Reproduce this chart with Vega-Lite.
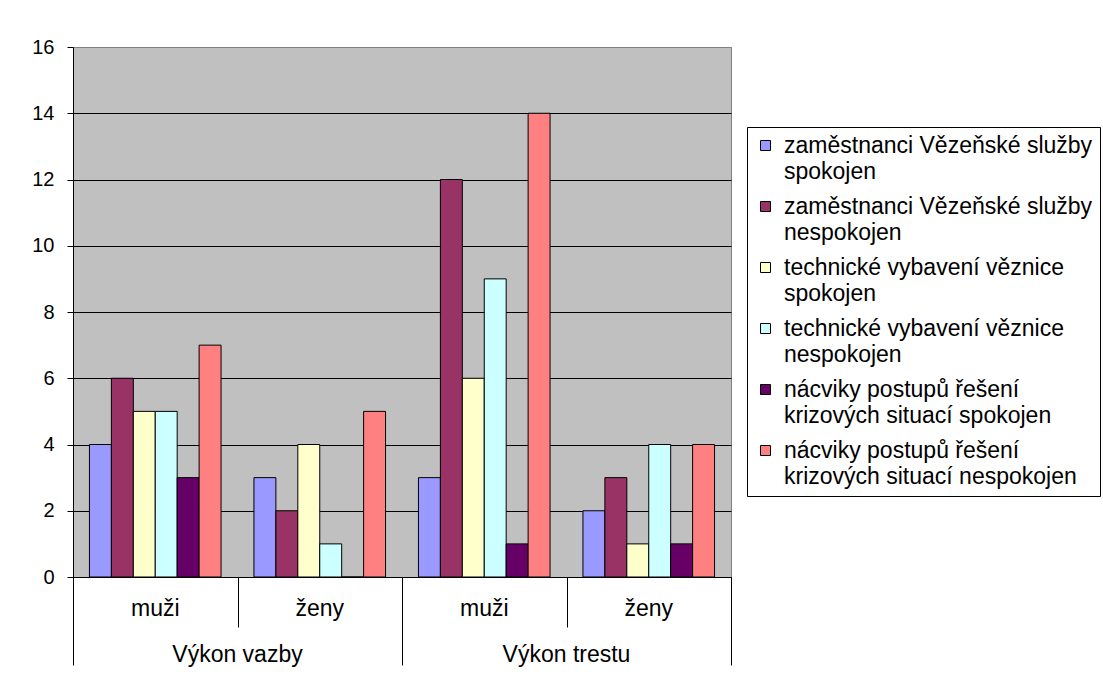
{
  "$schema": "https://vega.github.io/schema/vega-lite/v6.json",
  "width": 658,
  "height": 530,
  "autosize": {"type": "none"},
  "padding": {"left": 73, "top": 47, "right": 372, "bottom": 105},
  "background": "white",
  "config": {
    "font": "Liberation Sans",
    "view": {"fill": "#C0C0C0", "stroke": "#808080", "strokeWidth": 1}
  },
  "data": {
    "values": [
      {"skupina": "Výkon vazby", "kategorie": "Výkon vazby / muži", "položka": "zaměstnanci Vězeňské služby spokojen", "počet": 4},
      {"skupina": "Výkon vazby", "kategorie": "Výkon vazby / muži", "položka": "zaměstnanci Vězeňské služby nespokojen", "počet": 6},
      {"skupina": "Výkon vazby", "kategorie": "Výkon vazby / muži", "položka": "technické vybavení věznice spokojen", "počet": 5},
      {"skupina": "Výkon vazby", "kategorie": "Výkon vazby / muži", "položka": "technické vybavení věznice nespokojen", "počet": 5},
      {"skupina": "Výkon vazby", "kategorie": "Výkon vazby / muži", "položka": "nácviky postupů řešení krizových situací spokojen", "počet": 3},
      {"skupina": "Výkon vazby", "kategorie": "Výkon vazby / muži", "položka": "nácviky postupů řešení krizových situací nespokojen", "počet": 7},
      {"skupina": "Výkon vazby", "kategorie": "Výkon vazby / ženy", "položka": "zaměstnanci Vězeňské služby spokojen", "počet": 3},
      {"skupina": "Výkon vazby", "kategorie": "Výkon vazby / ženy", "položka": "zaměstnanci Vězeňské služby nespokojen", "počet": 2},
      {"skupina": "Výkon vazby", "kategorie": "Výkon vazby / ženy", "položka": "technické vybavení věznice spokojen", "počet": 4},
      {"skupina": "Výkon vazby", "kategorie": "Výkon vazby / ženy", "položka": "technické vybavení věznice nespokojen", "počet": 1},
      {"skupina": "Výkon vazby", "kategorie": "Výkon vazby / ženy", "položka": "nácviky postupů řešení krizových situací spokojen", "počet": 0},
      {"skupina": "Výkon vazby", "kategorie": "Výkon vazby / ženy", "položka": "nácviky postupů řešení krizových situací nespokojen", "počet": 5},
      {"skupina": "Výkon trestu", "kategorie": "Výkon trestu / muži", "položka": "zaměstnanci Vězeňské služby spokojen", "počet": 3},
      {"skupina": "Výkon trestu", "kategorie": "Výkon trestu / muži", "položka": "zaměstnanci Vězeňské služby nespokojen", "počet": 12},
      {"skupina": "Výkon trestu", "kategorie": "Výkon trestu / muži", "položka": "technické vybavení věznice spokojen", "počet": 6},
      {"skupina": "Výkon trestu", "kategorie": "Výkon trestu / muži", "položka": "technické vybavení věznice nespokojen", "počet": 9},
      {"skupina": "Výkon trestu", "kategorie": "Výkon trestu / muži", "položka": "nácviky postupů řešení krizových situací spokojen", "počet": 1},
      {"skupina": "Výkon trestu", "kategorie": "Výkon trestu / muži", "položka": "nácviky postupů řešení krizových situací nespokojen", "počet": 14},
      {"skupina": "Výkon trestu", "kategorie": "Výkon trestu / ženy", "položka": "zaměstnanci Vězeňské služby spokojen", "počet": 2},
      {"skupina": "Výkon trestu", "kategorie": "Výkon trestu / ženy", "položka": "zaměstnanci Vězeňské služby nespokojen", "počet": 3},
      {"skupina": "Výkon trestu", "kategorie": "Výkon trestu / ženy", "položka": "technické vybavení věznice spokojen", "počet": 1},
      {"skupina": "Výkon trestu", "kategorie": "Výkon trestu / ženy", "položka": "technické vybavení věznice nespokojen", "počet": 4},
      {"skupina": "Výkon trestu", "kategorie": "Výkon trestu / ženy", "položka": "nácviky postupů řešení krizových situací spokojen", "počet": 1},
      {"skupina": "Výkon trestu", "kategorie": "Výkon trestu / ženy", "položka": "nácviky postupů řešení krizových situací nespokojen", "počet": 4}
    ]
  },
  "layer": [
    {
      "mark": {"type": "bar", "stroke": "black", "strokeWidth": 1},
      "encoding": {
        "x": {
          "field": "kategorie", "type": "nominal",
          "sort": ["Výkon vazby / muži", "Výkon vazby / ženy", "Výkon trestu / muži", "Výkon trestu / ženy"],
          "scale": {"type": "band", "paddingInner": 0, "paddingOuter": 0},
          "axis": {
            "orient": "bottom", "title": null, "labels": false,
            "domainColor": "black", "domainWidth": 1,
            "tickBand": "extent", "tickColor": "black", "tickWidth": 1,
            "tickSize": {"condition": {"test": "datum.extra || indexof(datum.value, 'ženy') >= 0", "value": 88}, "value": 50}
          }
        },
        "xOffset": {
          "field": "položka", "type": "nominal",
          "sort": ["zaměstnanci Vězeňské služby spokojen", "zaměstnanci Vězeňské služby nespokojen", "technické vybavení věznice spokojen", "technické vybavení věznice nespokojen", "nácviky postupů řešení krizových situací spokojen", "nácviky postupů řešení krizových situací nespokojen"],
          "scale": {"paddingInner": 0, "paddingOuter": 0.75}
        },
        "y": {
          "field": "počet", "type": "quantitative",
          "scale": {"domain": [0, 16], "nice": false},
          "axis": {
            "title": null, "values": [0, 2, 4, 6, 8, 10, 12, 14, 16],
            "grid": true, "gridWidth": 1,
            "gridColor": {"condition": {"test": "datum.value == 16", "value": "#808080"}, "value": "black"},
            "domainColor": "black", "tickColor": "black", "tickSize": 6,
            "labelFontSize": 20, "labelColor": "black", "labelPadding": 13
          }
        },
        "color": {
          "field": "položka", "type": "nominal",
          "scale": {
            "domain": ["zaměstnanci Vězeňské služby spokojen", "zaměstnanci Vězeňské služby nespokojen", "technické vybavení věznice spokojen", "technické vybavení věznice nespokojen", "nácviky postupů řešení krizových situací spokojen", "nácviky postupů řešení krizových situací nespokojen"],
            "range": ["#9999FF", "#993366", "#FFFFCC", "#CCFFFF", "#660066", "#FF8080"]
          },
          "legend": {
            "orient": "none", "legendX": 674, "legendY": 80,
            "title": null,
            "strokeColor": "black", "fillColor": "white", "padding": 7,
            "symbolType": "square", "symbolSize": 100,
            "symbolStrokeColor": "black", "symbolStrokeWidth": 1, "symbolOpacity": 1,
            "labelFontSize": 23, "labelColor": "black", "labelLimit": 500,
            "labelOffset": 7, "rowPadding": 11,
            "labelExpr": "indexof(datum.label, 'nácviky') == 0 ? ['nácviky postupů řešení', slice(datum.label, 23)] : [slice(datum.label, 0, lastindexof(datum.label, ' ')), slice(datum.label, lastindexof(datum.label, ' ') + 1)]",
            "encode": {"labels": {"update": {"lineHeight": {"value": 26}}}}
          }
        }
      }
    },
    {
      "mark": {"type": "point", "opacity": 0},
      "encoding": {
        "x": {
          "field": "kategorie", "type": "nominal",
          "sort": ["Výkon vazby / muži", "Výkon vazby / ženy", "Výkon trestu / muži", "Výkon trestu / ženy"],
          "scale": {"type": "band", "paddingInner": 0, "paddingOuter": 0},
          "axis": {
            "orient": "bottom", "title": null, "ticks": false, "tickSize": 0, "domain": false, "grid": false,
            "labelExpr": "slice(datum.label, indexof(datum.label, '/') + 2)",
            "labelFontSize": 23, "labelColor": "black", "labelPadding": 20, "labelAngle": 0
          }
        }
      }
    },
    {
      "mark": {"type": "point", "opacity": 0},
      "encoding": {
        "x": {
          "field": "skupina", "type": "nominal",
          "sort": ["Výkon vazby", "Výkon trestu"],
          "scale": {"type": "band", "paddingInner": 0, "paddingOuter": 0},
          "axis": {
            "orient": "bottom", "title": null, "ticks": false, "tickSize": 0, "domain": false, "grid": false,
            "labelFontSize": 23, "labelColor": "black", "labelPadding": 66, "labelAngle": 0
          }
        }
      }
    }
  ],
  "resolve": {"scale": {"x": "independent"}, "axis": {"x": "independent"}}
}
